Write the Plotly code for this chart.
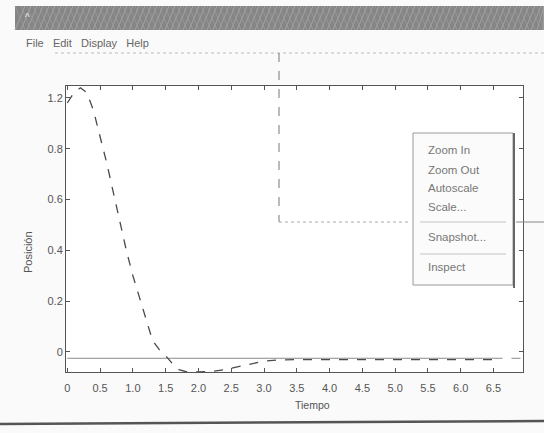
import plotly.graph_objects as go

# ---- data ----
tiempo = [0, 0.1, 0.2, 0.3, 0.4, 0.5, 0.6, 0.7, 0.8, 0.9, 1.0, 1.1, 1.2, 1.3, 1.4,
          1.5, 1.6, 1.7, 1.8, 2.0, 2.2, 2.4, 2.6, 2.8, 3.0, 3.2, 3.5, 4.0, 4.5,
          5.0, 5.5, 6.0, 6.5]
posicion = [0.98, 1.02, 1.04, 1.02, 0.95, 0.85, 0.745, 0.63, 0.51, 0.40, 0.30, 0.21,
            0.13, 0.045, 0.01, -0.015, -0.045, -0.07, -0.077, -0.079, -0.077, -0.07,
            -0.058, -0.046, -0.036, -0.032, -0.03, -0.03, -0.03, -0.03, -0.03, -0.03,
            -0.03]
ref_x = [0, 6.5]
ref_y = [-0.025, -0.025]

x_tickvals = [0, 0.5, 1.0, 1.5, 2.0, 2.5, 3.0, 3.5, 4.0, 4.5, 5.0, 5.5, 6.0, 6.5]
x_ticktext = ["0", "0.5", "1.0", "1.5", "2.0", "2.5", "3.0", "3.5", "4.0", "4.5",
              "5.0", "5.5", "6.0", "6.5"]
y_tickvals = [0, 0.2, 0.4, 0.6, 0.8, 1.0]
y_ticktext = ["0", "0.2", "0.4", "0.6", "0.8", "1.2"]

menu_bar = "File   Edit   Display   Help"
context_items = ["Zoom In", "Zoom Out", "Autoscale", "Scale...", "Snapshot...", "Inspect"]

# ---- layout geometry (pixels) ----
W, H = 544, 433
L, R, T, B = 66, 21, 86, 61
PW, PH = W - L - R, H - T - B


def px(x):
    return (x - L) / PW


def py(y):
    return (H - B - y) / PH


FONT = "Liberation Sans, Arial, sans-serif"
TXT = "#555555"

fig = go.Figure()
fig.add_trace(go.Scatter(x=ref_x, y=ref_y, mode="lines",
                         line=dict(color="#8a8a8a", width=1), hoverinfo="skip"))
fig.add_trace(go.Scatter(x=[6.5, 6.95], y=[-0.025, -0.025], mode="lines",
                         line=dict(color="#8a8a8a", width=1, dash="dash"), hoverinfo="skip"))
fig.add_trace(go.Scatter(x=tiempo, y=posicion, mode="lines",
                         line=dict(color="#4a4a4a", width=1.3, dash="dash")))

shapes = []
# title bar
shapes.append(dict(type="rect", xref="paper", yref="paper", x0=px(15), x1=px(544),
                   y0=py(30), y1=py(6), fillcolor="#858585", line=dict(width=0), layer="above"))
for k in range(0, 540, 6):
    shapes.append(dict(type="line", xref="paper", yref="paper", x0=px(15 + k), x1=px(min(15 + k + 10, 544)),
                       y0=py(30), y1=py(6), line=dict(color="#a3a3a3", width=1)))
    shapes.append(dict(type="line", xref="paper", yref="paper", x0=px(min(15 + k + 10, 544)), x1=px(15 + k),
                       y0=py(30), y1=py(6), line=dict(color="#9b9b9b", width=0.7)))
# dotted line under the menu
shapes.append(dict(type="line", xref="paper", yref="paper", x0=px(55), x1=px(544),
                   y0=py(53), y1=py(53), line=dict(color="#bbbbbb", width=1, dash="dot")))
# rubber-band / overlapping window edges
shapes.append(dict(type="line", xref="paper", yref="paper", x0=px(279), x1=px(279),
                   y0=py(53), y1=py(222), line=dict(color="#777777", width=1, dash="dash")))
shapes.append(dict(type="line", xref="paper", yref="paper", x0=px(279), x1=px(410),
                   y0=py(222), y1=py(222), line=dict(color="#aaaaaa", width=1, dash="dot")))
shapes.append(dict(type="line", xref="paper", yref="paper", x0=px(516), x1=px(544),
                   y0=py(222), y1=py(222), line=dict(color="#888888", width=1)))
# context menu
shapes.append(dict(type="rect", xref="paper", yref="paper", x0=px(413), x1=px(513),
                   y0=py(285), y1=py(133), fillcolor="#fbfbfb",
                   line=dict(color="#9a9a9a", width=1), layer="above"))
shapes.append(dict(type="line", xref="paper", yref="paper", x0=px(514), x1=px(514),
                   y0=py(288), y1=py(133), line=dict(color="#666666", width=2)))
for ys in (222, 254):
    shapes.append(dict(type="line", xref="paper", yref="paper", x0=px(420), x1=px(506),
                       y0=py(ys), y1=py(ys), line=dict(color="#c4c4c4", width=1)))
# bottom window edge
shapes.append(dict(type="line", xref="paper", yref="paper", x0=px(0), x1=px(544),
                   y0=py(424), y1=py(421), line=dict(color="#555555", width=2.5)))

annotations = []
annotations.append(dict(text=menu_bar, xref="paper", yref="paper", x=px(24), y=py(43),
                        xanchor="left", yanchor="middle", showarrow=False,
                        font=dict(family=FONT, size=11, color="#666666")))
annotations.append(dict(text="^", xref="paper", yref="paper", x=px(27), y=py(17),
                        xanchor="center", yanchor="middle",
                        showarrow=False, font=dict(family=FONT, size=10, color="#eeeeee")))
item_y = [150, 170, 188, 207, 237, 267]
for txt, yy in zip(context_items, item_y):
    annotations.append(dict(text=txt, xref="paper", yref="paper", x=px(426), y=py(yy),
                            xanchor="left", yanchor="middle", showarrow=False,
                            font=dict(family=FONT, size=11.5, color="#777777")))
annotations.append(dict(text="Posición", xref="paper", yref="paper", x=px(28), y=py(252),
                        xanchor="center", yanchor="middle", textangle=-90, showarrow=False,
                        font=dict(family=FONT, size=11, color=TXT)))
annotations.append(dict(text="Tiempo", xref="paper", yref="paper", x=px(312), y=py(405),
                        xanchor="center", yanchor="middle",
                        showarrow=False, font=dict(family=FONT, size=10.5, color=TXT)))

axis_common = dict(showgrid=False, zeroline=False, showline=True, linecolor="#555555",
                   linewidth=1, ticks="inside", ticklen=4, tickcolor="#555555",
                   mirror="ticks", tickfont=dict(family=FONT, size=11, color=TXT))

fig.update_layout(
    width=W, height=H, margin=dict(l=L, r=R, t=T, b=B),
    paper_bgcolor="#fafafa", plot_bgcolor="#ffffff", showlegend=False,
    xaxis=dict(range=[-0.02, 6.95], tickvals=x_tickvals, ticktext=x_ticktext,
               ticklabelstandoff=6, **axis_common),
    yaxis=dict(range=[-0.079, 1.047], tickvals=y_tickvals, ticktext=y_ticktext, **axis_common),
    shapes=shapes, annotations=annotations,
)

fig.write_html("out.html", config={"displayModeBar": False},
               post_script="document.body.style.margin='0';document.body.style.overflow='hidden';")
